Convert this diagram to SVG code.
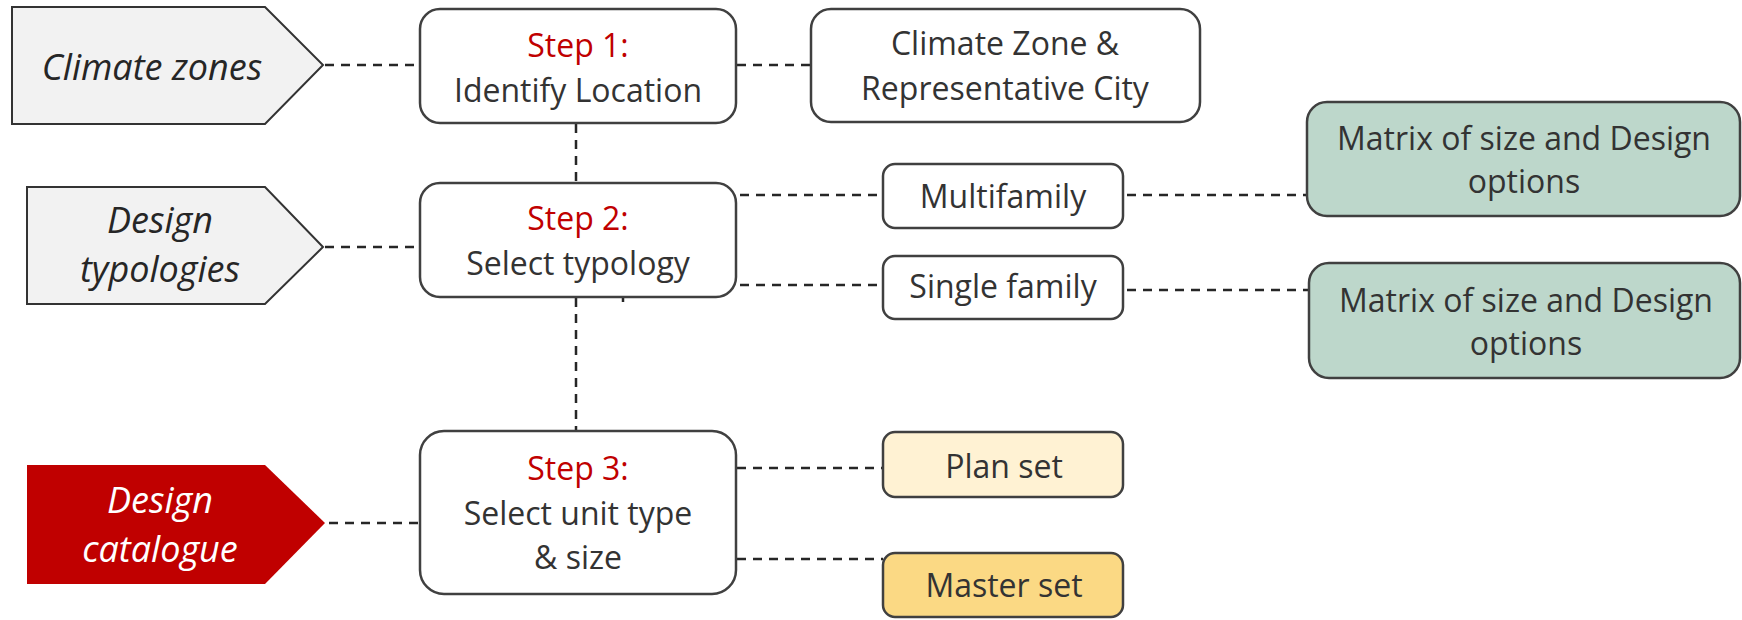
<svg xmlns="http://www.w3.org/2000/svg" width="1742" height="620" viewBox="0 0 1742 620">
  <style>
    .tag { stroke: #333333; stroke-width: 2; }
    .tag-grey { fill: #f2f2f2; }
    .tag-red { fill: #c00000; stroke: none; }
    .box { fill: #ffffff; stroke: #404040; stroke-width: 2.5; }
    .green { fill: #bdd7cb; }
    .pale { fill: #fff2d3; }
    .gold { fill: #fbd984; }
    text { font-family: "Open Sans", "Noto Sans", "Liberation Sans", sans-serif; font-size: 32px; text-anchor: middle; fill: #333333; font-weight: 400; }
    .it { font-style: italic; font-size: 36px; fill: #262626; }
    .white { fill: #ffffff; }
    .step { fill: #c00000; }
    .link { stroke: #262626; stroke-width: 2.5; stroke-dasharray: 9 7; fill: none; }
  </style>

  <!-- dashed connectors -->
  <g id="connectors">
    <line class="link" x1="325" y1="65" x2="420" y2="65"/>
    <line class="link" x1="325" y1="247" x2="420" y2="247"/>
    <line class="link" x1="329" y1="523" x2="420" y2="523"/>
    <line class="link" x1="737" y1="65" x2="811" y2="65"/>
    <line class="link" x1="576" y1="124" x2="576" y2="183"/>
    <line class="link" x1="576" y1="298" x2="576" y2="431"/>
    <line x1="623" y1="297" x2="623" y2="302" stroke="#262626" stroke-width="2.5"/>
    <line class="link" x1="740" y1="195" x2="883" y2="195"/>
    <line class="link" x1="740" y1="285" x2="883" y2="285"/>
    <line class="link" x1="1127" y1="195" x2="1307" y2="195"/>
    <line class="link" x1="1127" y1="290" x2="1309" y2="290"/>
    <line class="link" x1="737" y1="468" x2="883" y2="468"/>
    <line class="link" x1="737" y1="559" x2="883" y2="559"/>
  </g>

  <!-- left-hand category tags -->
  <g id="tag-climate-zones">
    <polygon class="tag tag-grey" points="12,7 265,7 323,65 265,124 12,124"/>
    <text class="it" x="152" y="80">Climate zones</text>
  </g>
  <g id="tag-design-typologies">
    <polygon class="tag tag-grey" points="27,187 265,187 323,247 265,304 27,304"/>
    <text class="it" x="160" y="233">Design</text>
    <text class="it" x="160" y="282">typologies</text>
  </g>
  <g id="tag-design-catalogue">
    <polygon class="tag-red" points="27,465 265,465 325,523 265,584 27,584"/>
    <text class="it white" x="160" y="513">Design</text>
    <text class="it white" x="160" y="562">catalogue</text>
  </g>

  <!-- steps -->
  <g id="step-1">
    <rect class="box" x="420" y="9" width="316" height="114" rx="20"/>
    <text class="step" x="578" y="57">Step 1:</text>
    <text x="578" y="102">Identify Location</text>
  </g>
  <g id="step-2">
    <rect class="box" x="420" y="183" width="316" height="114" rx="20"/>
    <text class="step" x="578" y="230">Step 2:</text>
    <text x="578" y="275">Select typology</text>
  </g>
  <g id="step-3">
    <rect class="box" x="420" y="431" width="316" height="163" rx="24"/>
    <text class="step" x="578" y="480">Step 3:</text>
    <text x="578" y="525">Select unit type</text>
    <text x="578" y="569">&amp; size</text>
  </g>

  <!-- outcomes -->
  <g id="climate-zone-city">
    <rect class="box" x="811" y="9" width="389" height="113" rx="20"/>
    <text x="1005" y="55">Climate Zone &amp;</text>
    <text x="1005" y="100">Representative City</text>
  </g>
  <g id="multifamily">
    <rect class="box" x="883" y="164" width="240" height="64" rx="12"/>
    <text x="1003" y="208">Multifamily</text>
  </g>
  <g id="single-family">
    <rect class="box" x="883" y="256" width="240" height="63" rx="12"/>
    <text x="1003" y="298">Single family</text>
  </g>
  <g id="matrix-multifamily">
    <rect class="box green" x="1307" y="102" width="433" height="114" rx="20"/>
    <text x="1524" y="150">Matrix of size and Design</text>
    <text x="1524" y="193">options</text>
  </g>
  <g id="matrix-single-family">
    <rect class="box green" x="1309" y="263" width="431" height="115" rx="20"/>
    <text x="1526" y="312">Matrix of size and Design</text>
    <text x="1526" y="355">options</text>
  </g>
  <g id="plan-set">
    <rect class="box pale" x="883" y="432" width="240" height="65" rx="12"/>
    <text x="1004" y="478">Plan set</text>
  </g>
  <g id="master-set">
    <rect class="box gold" x="883" y="553" width="240" height="64" rx="12"/>
    <text x="1004" y="597">Master set</text>
  </g>
</svg>
